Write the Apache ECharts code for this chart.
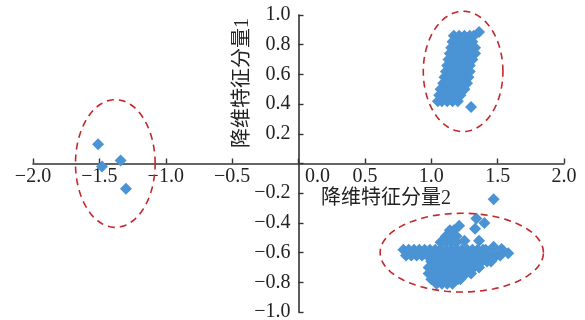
<!DOCTYPE html>
<html>
<head>
<meta charset="utf-8">
<script src="https://cdn.jsdelivr.net/npm/echarts@6/dist/echarts.min.js"></script>
<style>
  html, body { margin: 0; padding: 0; background: #ffffff; }
  #chart { width: 585px; height: 320px; }
</style>
</head>
<body>
<div id="chart"></div>
<script>
// Axis titles and ranges
const xTitle = '降维特征分量2';
const yTitle = '降维特征分量1';
const xRange = [-2, 2];
const xStep = 0.5;
const yRange = [-1, 1];
const yStep = 0.2;

// Small group on the left (component 2 negative)
const groupLeft = [
  [-1.51, 0.13], [-1.48, -0.02], [-1.34, 0.02], [-1.30, -0.17]
];

// Upper-right group
const groupUpper = [
  [1.17, 0.86], [1.21, 0.86], [1.25, 0.86], [1.29, 0.86], [1.32, 0.86], [1.36, 0.885],
  [1.16, 0.82], [1.19, 0.82], [1.23, 0.82], [1.27, 0.82], [1.31, 0.82],
  [1.15, 0.78], [1.19, 0.78], [1.23, 0.78], [1.27, 0.78], [1.31, 0.78], [1.33, 0.78],
  [1.14, 0.74], [1.17, 0.74], [1.21, 0.74], [1.25, 0.74], [1.29, 0.74], [1.33, 0.74],
  [1.13, 0.70], [1.17, 0.70], [1.21, 0.70], [1.25, 0.70], [1.29, 0.70], [1.31, 0.70],
  [1.12, 0.66], [1.15, 0.66], [1.19, 0.66], [1.23, 0.66], [1.27, 0.66], [1.29, 0.66],
  [1.11, 0.62], [1.15, 0.62], [1.19, 0.62], [1.23, 0.62], [1.27, 0.62], [1.29, 0.62],
  [1.10, 0.58], [1.13, 0.58], [1.17, 0.58], [1.21, 0.58], [1.25, 0.58], [1.28, 0.58],
  [1.09, 0.54], [1.13, 0.54], [1.17, 0.54], [1.21, 0.54], [1.25, 0.54], [1.27, 0.54],
  [1.07, 0.50], [1.11, 0.50], [1.15, 0.50], [1.19, 0.50], [1.23, 0.50], [1.25, 0.50],
  [1.06, 0.46], [1.10, 0.46], [1.14, 0.46], [1.18, 0.46], [1.22, 0.46],
  [1.05, 0.42], [1.08, 0.42], [1.12, 0.42], [1.16, 0.42], [1.20, 0.42],
  [1.30, 0.38]
];

// Lower-right group
const groupLower = [
  [1.14, -0.45], [1.17, -0.45],
  [1.11, -0.49], [1.15, -0.49], [1.19, -0.49],
  [1.07, -0.53], [1.11, -0.53], [1.15, -0.53], [1.19, -0.53],
  [0.79, -0.58], [0.83, -0.58], [0.87, -0.58], [0.91, -0.58], [0.95, -0.58], [0.99, -0.58],
  [1.03, -0.58], [1.07, -0.58], [1.11, -0.58], [1.15, -0.58], [1.19, -0.58], [1.23, -0.58],
  [1.27, -0.58], [1.31, -0.58], [1.35, -0.58], [1.39, -0.58], [1.41, -0.58],
  [0.81, -0.62], [0.85, -0.62], [0.89, -0.62], [0.93, -0.62], [0.97, -0.62], [1.01, -0.62],
  [1.05, -0.62], [1.09, -0.62], [1.13, -0.62], [1.17, -0.62], [1.21, -0.62], [1.25, -0.62],
  [1.29, -0.62], [1.33, -0.62], [1.37, -0.62], [1.41, -0.62], [1.45, -0.62], [1.49, -0.62],
  [1.52, -0.62], [1.58, -0.605],
  [1.00, -0.66], [1.02, -0.66], [1.06, -0.66], [1.10, -0.66], [1.14, -0.66], [1.18, -0.66],
  [1.22, -0.66], [1.26, -0.66], [1.30, -0.66], [1.34, -0.66], [1.38, -0.66], [1.42, -0.66],
  [1.45, -0.66],
  [0.98, -0.70], [1.00, -0.70], [1.04, -0.70], [1.08, -0.70], [1.12, -0.70], [1.16, -0.70],
  [1.20, -0.70], [1.24, -0.70], [1.28, -0.70], [1.32, -0.70], [1.36, -0.70],
  [0.98, -0.74], [1.02, -0.74], [1.06, -0.74], [1.10, -0.74], [1.14, -0.74], [1.18, -0.74],
  [1.22, -0.74], [1.26, -0.74], [1.30, -0.74],
  [1.00, -0.78], [1.04, -0.78], [1.08, -0.78], [1.12, -0.78], [1.16, -0.78], [1.20, -0.78],
  [1.22, -0.78],
  [1.04, -0.81], [1.08, -0.81], [1.12, -0.81], [1.16, -0.81],
  [1.21, -0.42], [1.34, -0.37], [1.40, -0.40], [1.33, -0.44], [1.25, -0.52], [1.36, -0.52],
  [1.47, -0.56], [1.53, -0.575], [1.47, -0.24]
];

// Dashed rings around each group: [centerX, centerY, radiusX, radiusY]
const groupRings = [
  [-1.38, 0.00, 0.30, 0.43],
  [1.24, 0.62, 0.30, 0.405],
  [1.23, -0.60, 0.615, 0.265]
];

const SERIF = '"Liberation Serif", "Times New Roman", serif';
const TITLE_FONT = '"Liberation Serif", "Noto Sans CJK SC", serif';
const AXIS_COLOR = '#333333';
const POINT_COLOR = '#4a93d4';
const RING_COLOR = '#c4282d';
const GRID = { left: 33, right: 21, top: 15, bottom: 8 };

function numLabel(v) {
  const s = Math.abs(v).toFixed(1);
  return (v < -1e-9 ? '\u2212' : '') + s;
}

const chart = echarts.init(document.getElementById('chart'), null, { renderer: 'canvas' });

const axisCommon = {
  type: 'value',
  axisLine: { onZero: false, lineStyle: { color: AXIS_COLOR, width: 1.6 } },
  axisTick: { show: true, inside: true, length: 5, lineStyle: { color: AXIS_COLOR, width: 1.4 } },
  splitLine: { show: false }
};

function dotSeries(data) {
  return {
    type: 'scatter', data: data, symbol: 'diamond', symbolSize: 12,
    itemStyle: { color: POINT_COLOR, opacity: 1 }, z: 2
  };
}

chart.setOption({
  animation: false,
  backgroundColor: '#ffffff',
  grid: Object.assign({ containLabel: false, outerBoundsMode: 'none' }, GRID),
  xAxis: Object.assign({}, axisCommon, {
    position: 'bottom',
    min: xRange[0], max: xRange[1], interval: xStep,
    axisLabel: {
      margin: 3,
      color: '#222222',
      fontFamily: SERIF,
      fontSize: 20,
      formatter: function (v) {
        return Math.abs(v) < 1e-9 ? '{z|0.0}' : numLabel(v);
      },
      rich: {
        z: { padding: [0, 0, 0, 38], fontFamily: SERIF, fontSize: 20, color: '#222222' }
      }
    }
  }),
  yAxis: Object.assign({}, axisCommon, {
    position: 'left',
    min: yRange[0], max: yRange[1], interval: yStep,
    axisLabel: {
      margin: 8,
      color: '#222222',
      fontFamily: SERIF,
      fontSize: 20,
      formatter: function (v) {
        return Math.abs(v) < 1e-9 ? '' : numLabel(v);
      }
    }
  }),
  graphic: [
    {
      type: 'text', x: 386, y: 199, silent: true,
      style: { text: xTitle, font: '20px ' + TITLE_FONT, fill: '#222222',
               textAlign: 'center', textVerticalAlign: 'middle' }
    },
    {
      type: 'text', x: 243, y: 83, rotation: Math.PI / 2, silent: true,
      style: { text: yTitle, font: '20px ' + TITLE_FONT, fill: '#222222',
               textAlign: 'center', textVerticalAlign: 'middle' }
    }
  ],
  series: [
    {
      type: 'custom',
      data: groupRings,
      silent: true,
      z: 3,
      renderItem: function (params, api) {
        const cx = api.value(0), cy = api.value(1), rx = api.value(2), ry = api.value(3);
        const pts = [];
        for (let i = 0; i < 96; i++) {
          const t = (i / 96) * Math.PI * 2;
          pts.push(api.coord([cx + rx * Math.cos(t), cy + ry * Math.sin(t)]));
        }
        return {
          type: 'polygon',
          shape: { points: pts },
          style: { fill: 'none', stroke: RING_COLOR, lineWidth: 1.6, lineDash: [7, 5] }
        };
      }
    },
    dotSeries(groupLeft),
    dotSeries(groupUpper),
    dotSeries(groupLower)
  ]
});

// Move both axes so they cross at the origin, carrying ticks and labels along.
const origin = chart.convertToPixel({ gridIndex: 0 }, [0, 0]);
const H = chart.getHeight();
chart.setOption({
  xAxis: { offset: -((H - GRID.bottom) - origin[1]) },
  yAxis: { offset: -(origin[0] - GRID.left) }
});
</script>
</body>
</html>
